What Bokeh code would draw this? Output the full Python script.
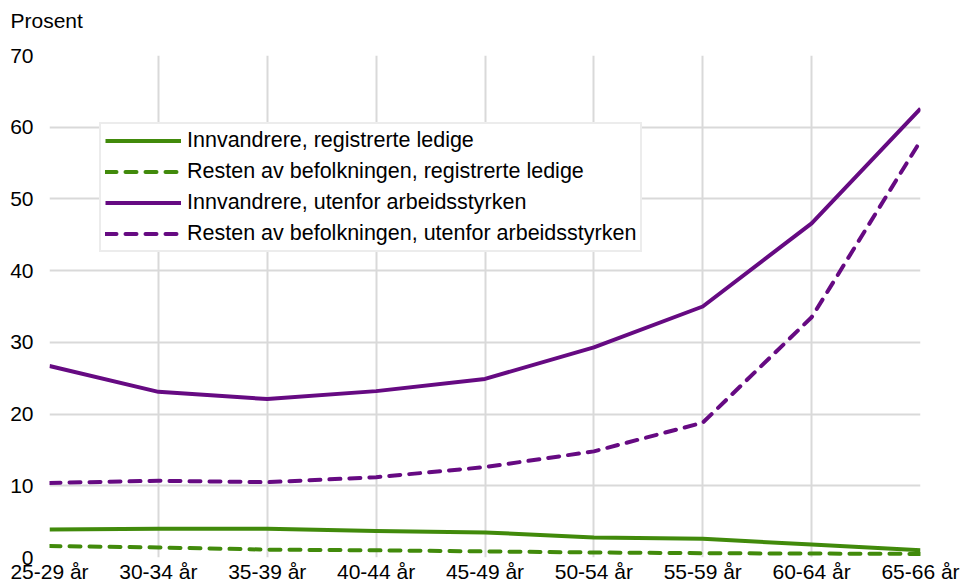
from bokeh.plotting import figure
from bokeh.models import FixedTicker, Range1d, Legend, LegendItem, Label
from bokeh.embed import file_html
from bokeh.resources import INLINE

cats = ["25-29 år", "30-34 år", "35-39 år", "40-44 år", "45-49 år",
        "50-54 år", "55-59 år", "60-64 år", "65-66 år"]
innv_ledige = [3.9, 4.0, 4.0, 3.7, 3.5, 2.8, 2.6, 1.8, 1.0]
rest_ledige = [1.6, 1.4, 1.1, 1.0, 0.85, 0.7, 0.6, 0.55, 0.5]
innv_utenfor = [26.7, 23.1, 22.1, 23.2, 24.9, 29.3, 35.0, 46.6, 62.6]
rest_utenfor = [10.4, 10.7, 10.5, 11.2, 12.6, 14.8, 18.8, 33.5, 58.1]
y_ticks = [0, 10, 20, 30, 40, 50, 60, 70]
y_title = "Prosent"

labels = ["Innvandrere, registrerte ledige",
          "Resten av befolkningen, registrerte ledige",
          "Innvandrere, utenfor arbeidsstyrken",
          "Resten av befolkningen, utenfor arbeidsstyrken"]

GREEN = "#418a0b"
PURPLE = "#660a82"
FONT = "Liberation Sans"

x = list(range(len(cats)))

p = figure(width=962, height=585, output_backend="svg", toolbar_location=None,
           x_range=Range1d(0, len(cats) - 1), y_range=Range1d(0, 70),
           min_border_left=49, min_border_right=42, min_border_top=55,
           min_border_bottom=26)

p.outline_line_color = None
p.background_fill_color = "white"
p.border_fill_color = "white"

p.xaxis.ticker = FixedTicker(ticks=x)
p.xaxis.major_label_overrides = {i: c for i, c in zip(x, cats)}
p.yaxis.ticker = FixedTicker(ticks=y_ticks)

for ax in (p.xaxis[0], p.yaxis[0]):
    ax.axis_line_color = None
    ax.major_tick_line_color = None
    ax.minor_tick_line_color = None
    ax.major_tick_out = 0
    ax.major_tick_in = 0
    ax.major_label_text_font = FONT
    ax.major_label_text_font_size = "21px"
    ax.major_label_text_color = "black"
p.xaxis.major_label_standoff = 2
p.yaxis.major_label_standoff = 16

for g in (p.xgrid[0], p.ygrid[0]):
    g.grid_line_color = "#d9d9d9"
    g.grid_line_width = 2

# axis unit title, placed in canvas pixels (top-left of the figure), in the top panel
p.add_layout(Label(x=10, y=20, x_units="canvas", y_units="canvas",
                   text=y_title, text_align="left", text_baseline="middle",
                   text_font=FONT, text_font_size="21px", text_color="black"),
             "above")

r1 = p.line(x, innv_ledige, line_color=GREEN, line_width=4, line_join="round")
r2 = p.line(x, rest_ledige, line_color=GREEN, line_width=4, line_dash="11 9",
            line_cap="round", line_join="round")
r3 = p.line(x, innv_utenfor, line_color=PURPLE, line_width=4, line_join="round")
r4 = p.line(x, rest_utenfor, line_color=PURPLE, line_width=4, line_dash="11 9",
            line_cap="round", line_join="round")

legend = Legend(items=[LegendItem(label=l, renderers=[r]) for l, r in zip(labels, [r1, r2, r3, r4])],
                location=(50, 305), padding=4, spacing=6, margin=0,
                glyph_width=76, glyph_height=25, label_height=25, label_standoff=6,
                label_text_font=FONT, label_text_font_size="21.5px",
                label_text_color="black",
                border_line_color="#d9d9d9", border_line_width=2,
                background_fill_color="white", background_fill_alpha=1)
p.add_layout(legend)

open("out.html", "w").write(file_html(p, INLINE))
